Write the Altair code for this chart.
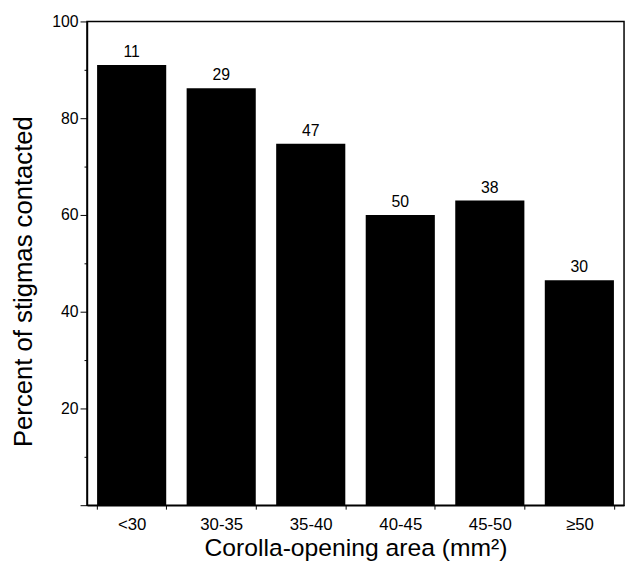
import altair as alt
import pandas as pd

categories = ["<30", "30-35", "35-40", "40-45", "45-50", "\u226550"]
percents = [91.0, 86.2, 74.7, 60.0, 63.0, 46.5]
counts = ["11", "29", "47", "50", "38", "30"]
y_ticks = [0, 10, 20, 30, 40, 50, 60, 70, 80, 90, 100]

df = pd.DataFrame({"cat": categories, "pct": percents, "n": counts})

FONT = "Liberation Sans"

x = alt.X(
    "cat:N",
    sort=categories,
    scale=alt.Scale(paddingInner=0.228, paddingOuter=0.113),
    axis=alt.Axis(
        title="Corolla-opening area (mm\u00b2)",
        labelAngle=0,
        tickBand="extent",
        tickSize=4,
        tickColor="black",
        domainColor="black",
        domainWidth=1.5,
        labelFont=FONT,
        labelFontSize=17,
        labelColor="black",
        labelPadding=8,
        titleFont=FONT,
        titleFontSize=25,
        titleFontWeight="normal",
        titleColor="black",
        titlePadding=3,
    ),
)

y = alt.Y(
    "pct:Q",
    scale=alt.Scale(domain=[0, 100], nice=False),
    axis=alt.Axis(
        title="Percent of stigmas contacted",
        values=y_ticks,
        labelExpr="datum.value % 20 === 0 && datum.value > 0 ? datum.label : ''",
        tickSize={"condition": {"test": "datum.value % 20 === 0", "value": 7}, "value": 3},
        tickColor="black",
        domainColor="black",
        domainWidth=1.5,
        grid=False,
        labelFont=FONT,
        labelFontSize=16,
        labelColor="black",
        labelPadding=2,
        titleFont=FONT,
        titleFontSize=26,
        titleFontWeight="normal",
        titleColor="black",
        titlePadding=15,
        titleY=263,
    ),
)

bars = alt.Chart(df).mark_bar(color="black").encode(x=x, y=y)

labels = alt.Chart(df).mark_text(
    font=FONT, fontSize=16, color="black", baseline="bottom", dy=-5
).encode(x=alt.X("cat:N", sort=categories), y="pct:Q", text="n:N")

chart = (
    alt.layer(bars, labels)
    .properties(
        width=544,
        height=490,
        autosize=alt.AutoSizeParams(type="none"),
        padding={"left": 80, "top": 10, "right": 3, "bottom": 61},
    )
    .configure_view(stroke="black", strokeWidth=1.5)
    .configure_axis(grid=False)
)

chart.save("out.html", embed_options={"renderer": "svg", "actions": False})
